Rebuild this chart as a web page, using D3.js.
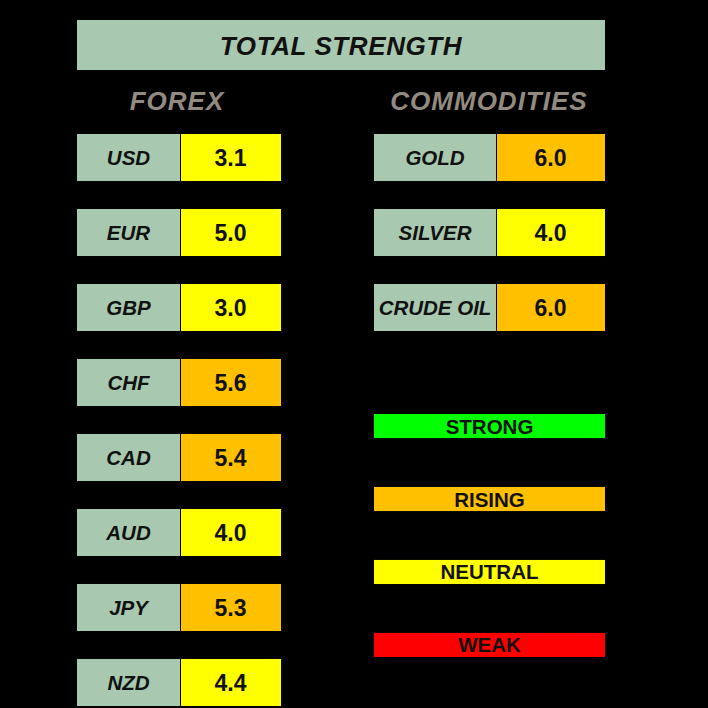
<!DOCTYPE html>
<html>
  <head>
    <meta charset="utf-8">
    <script src="https://cdn.jsdelivr.net/npm/d3@7/dist/d3.min.js"></script>
    <style>
      html, body {
        margin: 0;
        padding: 0;
        background: #000;
      }

      text {
        font-family: Arial, 'Liberation Sans', sans-serif;
        font-weight: bold;
        fill: #111;
      }
    </style>
  </head>
  <body>
    <script>
      const title = 'TOTAL STRENGTH';
      const groupTitles = ['FOREX', 'COMMODITIES'];

      const forexNames = ['USD', 'EUR', 'GBP', 'CHF', 'CAD', 'AUD', 'JPY', 'NZD'];
      const forexValues = [3.1, 5.0, 3.0, 5.6, 5.4, 4.0, 5.3, 4.4];

      const commodityNames = ['GOLD', 'SILVER', 'CRUDE OIL'];
      const commodityValues = [6.0, 4.0, 6.0];

      const legendLabels = ['STRONG', 'RISING', 'NEUTRAL', 'WEAK'];
      const legendColors = ['#00ff00', '#ffc000', '#ffff00', '#ff0000'];

      const width = 708;
      const height = 708;
      const labelFill = '#a9c8b0';

      // value -> strength colour
      const strengthColor = d3.scaleThreshold()
        .domain([2, 5.05, 7])
        .range(['#ff0000', '#ffff00', '#ffc000', '#00ff00']);

      const svg = d3.select('body')
        .append('svg')
        .attr('width', width)
        .attr('height', height);

      svg.append('rect')
        .attr('width', width)
        .attr('height', height)
        .attr('fill', '#000');

      // title
      const xTitle = d3.scaleLinear().domain([0, 1]).range([77, 605]);
      svg.append('rect')
        .attr('x', xTitle(0))
        .attr('y', 20)
        .attr('width', xTitle(1) - xTitle(0))
        .attr('height', 50)
        .attr('fill', labelFill);
      svg.append('text')
        .attr('x', xTitle(0.5))
        .attr('y', 55)
        .attr('text-anchor', 'middle')
        .style('font-size', '26px')
        .style('letter-spacing', '0.6px')
        .style('font-style', 'italic')
        .text(title);

      // group headings
      const xGroup = d3.scaleOrdinal().domain(groupTitles).range([177, 489]);
      svg.selectAll('text.group').data(groupTitles)
        .enter()
        .append('text')
        .classed('group', true)
        .attr('x', d => xGroup(d))
        .attr('y', 110)
        .attr('text-anchor', 'middle')
        .style('font-size', '26px')
        .style('letter-spacing', '1px')
        .style('font-style', 'italic')
        .style('fill', '#948b80')
        .text(d => d);

      // rows
      const yRow = d3.scaleBand()
        .domain(d3.range(forexNames.length))
        .range([134, 706])
        .paddingInner(0.373);

      function drawTable(names, values, x0, x1, x2, cls) {
        const rows = svg.selectAll('g.' + cls)
          .data(names.map((n, i) => ({name: n, value: values[i], i: i})))
          .enter()
          .append('g')
          .classed(cls, true)
          .attr('transform', d => `translate(0,${yRow(d.i)})`);

        rows.append('rect')
          .attr('x', x0)
          .attr('width', x1 - x0)
          .attr('height', yRow.bandwidth())
          .attr('fill', labelFill);

        rows.append('rect')
          .attr('x', x1 + 1)
          .attr('width', x2 - x1 - 1)
          .attr('height', yRow.bandwidth())
          .attr('fill', d => strengthColor(d.value));

        rows.append('text')
          .attr('x', (x0 + x1) / 2)
          .attr('y', yRow.bandwidth() / 2 + 7.5)
          .attr('text-anchor', 'middle')
          .style('font-size', '20.5px')
          .style('font-style', 'italic')
          .text(d => d.name);

        rows.append('text')
          .attr('x', (x1 + x2) / 2)
          .attr('y', yRow.bandwidth() / 2 + 8.5)
          .attr('text-anchor', 'middle')
          .style('font-size', '23px')
          .text(d => d3.format('.1f')(d.value));
      }

      drawTable(forexNames, forexValues, 77, 180, 281, 'forex');
      drawTable(commodityNames, commodityValues, 374, 496, 605, 'commodity');

      // legend
      const yLegend = d3.scaleBand()
        .domain(legendLabels)
        .range([414, 657])
        .paddingInner(0.67);

      const legend = svg.selectAll('g.legend').data(legendLabels)
        .enter()
        .append('g')
        .classed('legend', true)
        .attr('transform', d => `translate(0,${yLegend(d)})`);

      legend.append('rect')
        .attr('x', 374)
        .attr('width', 605 - 374)
        .attr('height', yLegend.bandwidth())
        .attr('fill', (d, i) => legendColors[i]);

      legend.append('text')
        .attr('x', (374 + 605) / 2)
        .attr('y', yLegend.bandwidth() / 2 + 7.5)
        .attr('text-anchor', 'middle')
        .style('font-size', '20.5px')
        .text(d => d);
    </script>
  </body>
</html>
